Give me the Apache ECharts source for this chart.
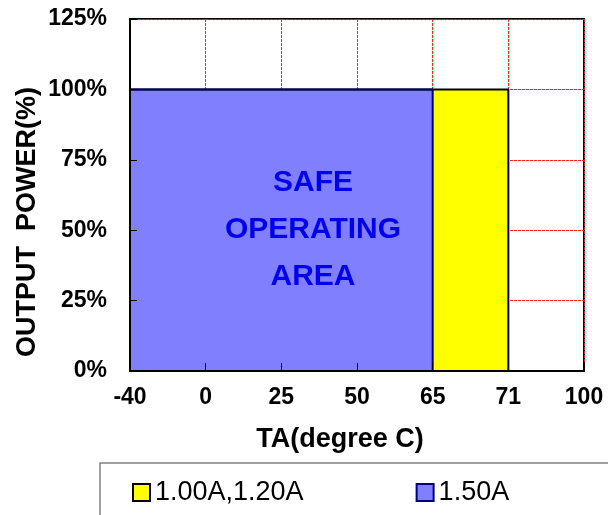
<!DOCTYPE html>
<html>
<head>
<meta charset="utf-8">
<script src="https://cdn.jsdelivr.net/npm/echarts@6/dist/echarts.min.js"></script>
<style>
html,body{margin:0;padding:0;background:#fff;}
#chart{width:608px;height:515px;}
</style>
</head>
<body>
<div id="chart"></div>
<script>
var categories = ['-40', '0', '25', '50', '65', '71', '100'];
var yTicks = [0, 25, 50, 75, 100, 125];
var seriesNames = ['1.00A,1.20A', '1.50A'];
var lowCurrent = [100, 100, 100, 100, 100, 100, 0];
var highCurrent = [100, 100, 100, 100, 100, 0, '-'];
var areaLabel = ['SAFE', 'OPERATING', 'AREA'];
var xTitle = 'TA(degree C)';
var yTitle = 'OUTPUT  POWER(%)';

var FONT = '"Liberation Sans", Arial, sans-serif';
var GRIDLINE = { show: true, lineStyle: { color: '#ff2020', type: [3, 1], width: 1, opacity: 1 } };
var chart = echarts.init(document.getElementById('chart'));
var option = {
  backgroundColor: '#fff',
  animation: false,
  grid: {
    left: 130, top: 19, right: 24, bottom: 144,
    show: true, borderColor: '#000', borderWidth: 2, backgroundColor: 'transparent'
  },
  xAxis: [{
    type: 'category',
    data: categories,
    boundaryGap: false,
    axisLine: { show: true, lineStyle: { color: '#000', width: 2 } },
    axisTick: { show: false },
    axisLabel: { margin: 15, color: '#000', fontFamily: FONT, fontWeight: 'bold', fontSize: 23 },
    splitLine: GRIDLINE
  }, {
    type: 'category',
    data: categories,
    boundaryGap: false,
    position: 'bottom',
    z: 10,
    axisLine: { show: true, lineStyle: { color: '#000', width: 2 } },
    axisTick: { show: true, inside: true, length: 8, lineStyle: { color: '#000', width: 1 } },
    axisLabel: { show: false },
    splitLine: { show: false }
  }],
  yAxis: [{
    type: 'value',
    min: yTicks[0], max: yTicks[yTicks.length - 1], interval: 25,
    axisLine: { show: true, lineStyle: { color: '#000', width: 2 } },
    axisTick: { show: false },
    axisLabel: { margin: 23, color: '#000', fontFamily: FONT, fontWeight: 'bold', fontSize: 23,
      formatter: function (v) { return v + '%'; } },
    splitLine: GRIDLINE
  }, {
    type: 'value',
    position: 'left',
    z: 10,
    min: yTicks[0], max: yTicks[yTicks.length - 1], interval: 25,
    axisLine: { show: true, lineStyle: { color: '#000', width: 2 } },
    axisTick: { show: true, inside: true, length: 7, lineStyle: { color: '#000', width: 1 } },
    axisLabel: { show: false },
    splitLine: { show: false }
  }],
  legend: {
    left: 127, top: 474,
    icon: 'rect',
    itemWidth: 17, itemHeight: 17,
    itemGap: 112,
    textStyle: { color: '#000', fontFamily: FONT, fontSize: 27 },
    data: [
      { name: seriesNames[0], itemStyle: { color: '#ffff00', borderColor: '#000', borderWidth: 2 } },
      { name: seriesNames[1], itemStyle: { color: '#8080ff', borderColor: '#000080', borderWidth: 2 } }
    ]
  },
  series: [
    {
      name: seriesNames[0], type: 'line', step: 'start', data: lowCurrent,
      showSymbol: false, symbol: 'none',
      lineStyle: { color: '#000', width: 2 },
      itemStyle: { color: '#ffff00' },
      areaStyle: { color: '#ffff00', opacity: 1 }
    },
    {
      name: seriesNames[1], type: 'line', step: 'start', data: highCurrent,
      showSymbol: false, symbol: 'none',
      lineStyle: { color: '#000080', width: 2 },
      itemStyle: { color: '#8080ff' },
      areaStyle: { color: '#8080ff', opacity: 1 }
    }
  ],
  graphic: [
    {
      type: 'text', x: 313, y: 230, z: 100,
      style: {
        text: areaLabel.join('\n'), fill: '#0000ee', font: 'bold 30px ' + FONT,
        align: 'center', verticalAlign: 'middle', lineHeight: 47
      }
    },
    {
      type: 'text', x: 340, y: 440, z: 100,
      style: { text: xTitle, fill: '#000', font: 'bold 27px ' + FONT, align: 'center', verticalAlign: 'middle' }
    },
    {
      type: 'text', x: 28, y: 222, rotation: Math.PI / 2, z: 100,
      style: { text: yTitle, fill: '#000', font: 'bold 27px ' + FONT, align: 'center', verticalAlign: 'middle' }
    },
    {
      type: 'rect', shape: { x: 100, y: 463, width: 600, height: 100 }, z: 0,
      style: { fill: 'none', stroke: '#808080', lineWidth: 1.5 }
    }
  ]
};
chart.setOption(option);
</script>
</body>
</html>
